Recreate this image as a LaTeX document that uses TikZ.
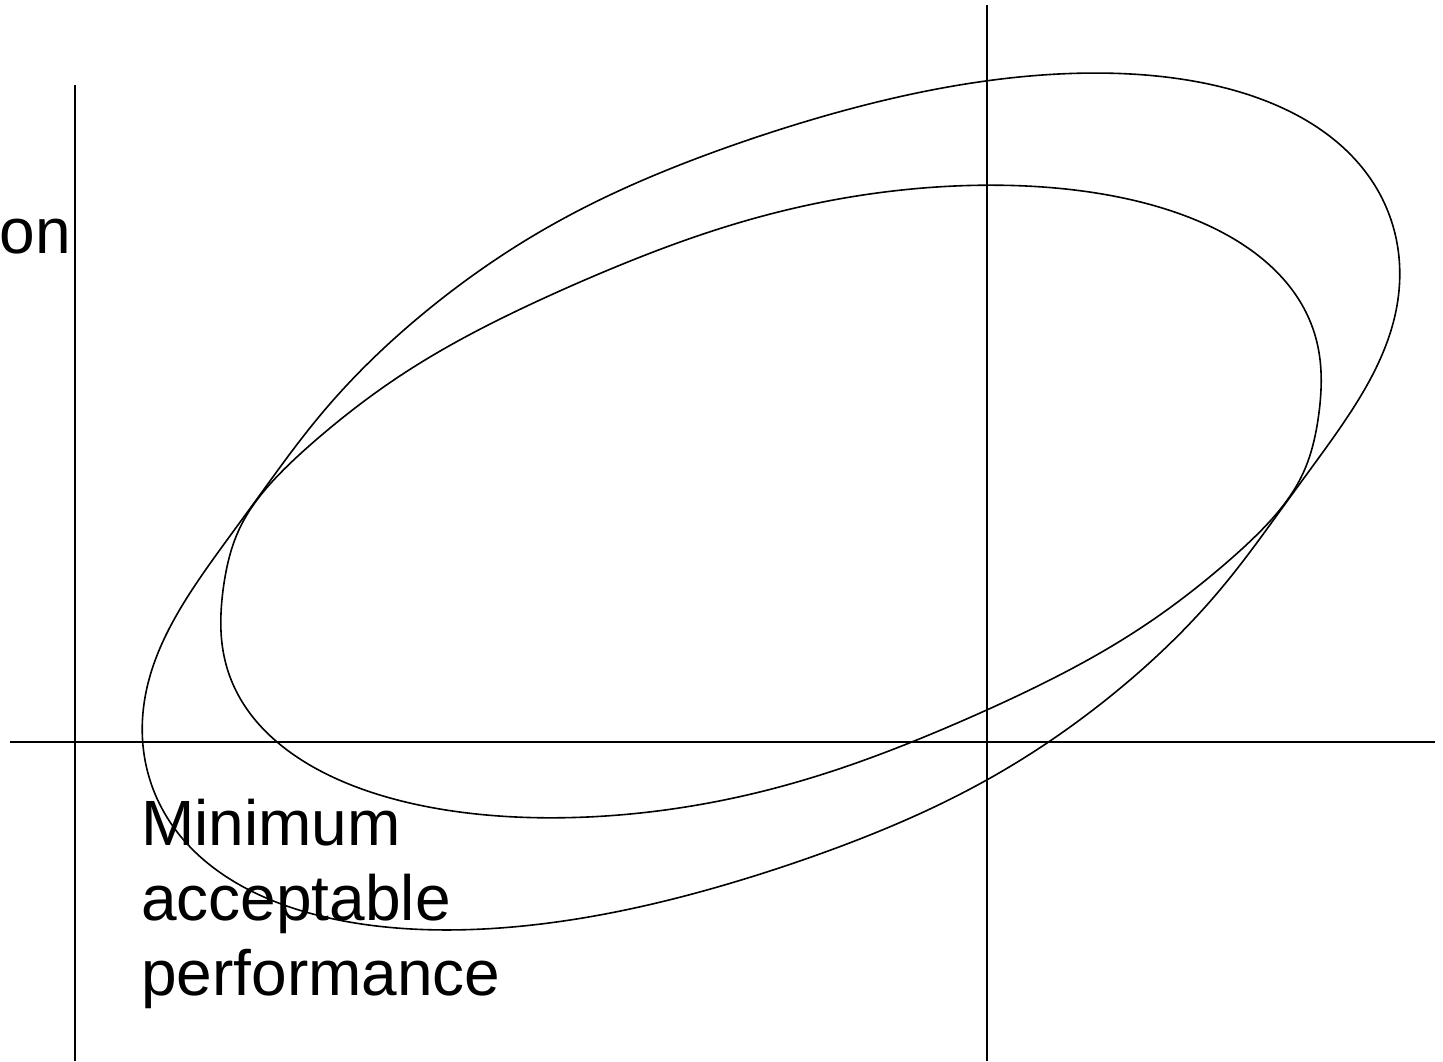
\documentclass[tikz,border=0pt]{standalone}
\usepackage{fontspec}
\setmainfont{Liberation Sans}
\pgfmathdeclarefunction{bmp}{3}{\pgfmathparse{exp(-min(((#1-#2)/#3)^2,9))}}
\pgfmathdeclarefunction{rhoA}{1}{\pgfmathparse{1-0.045*bmp(#1,43.5,17)-0.045*bmp(#1,223.5,17)+0.023*bmp(#1,84,16)+0.023*bmp(#1,264,16)}}
\pgfmathdeclarefunction{rhoB}{1}{\pgfmathparse{1+0.022*bmp(#1,30.7,12)+0.022*bmp(#1,210.7,12)-0.029*bmp(#1,77,20)-0.029*bmp(#1,257,20)}}
\begin{document}
\begin{tikzpicture}[x=1pt,y=-1pt,
  axis/.style={line width=1.6pt,black},
  loop/.style={line width=1.6pt,black},
  lbl/.style={inner sep=0pt,font=\fontsize{64}{75}\selectfont}]
\useasboundingbox (0,0) rectangle (1443,1061);
% axes
\coordinate (v1t) at (75,85);   \coordinate (v1b) at (75,1061);
\coordinate (v2t) at (987,5);   \coordinate (v2b) at (987,1061);
\coordinate (hl) at (10,742);   \coordinate (hr) at (1435,742);
\draw[axis] (v1t) -- (v1b);
\draw[axis] (v2t) -- (v2b);
\draw[axis] (hl) -- (hr);
% outer loop
\begin{scope}[shift={(771,501.5)},rotate=26.25]
\draw[loop] plot[smooth cycle,domain=0:359,samples=360,variable=\t]
  ({682.2*rhoA(\t)*cos(\t)},{339.2*rhoA(\t)*sin(\t)});
\end{scope}
% inner loop
\begin{scope}[shift={(771,501.5)},rotate=17.2]
\draw[loop] plot[smooth cycle,domain=0:359,samples=360,variable=\t]
  ({568.9*rhoB(\t)*cos(\t)},{280.5*rhoB(\t)*sin(\t)});
\end{scope}
% labels
\node[lbl, anchor=base east] (on) at (71,253) {on};
\node[lbl, anchor=base west] (m1) at (141,845) {Minimum};
\node[lbl, anchor=base west] (m2) at (141,920) {acceptable};
\node[lbl, anchor=base west] (m3) at (141,995) {performance};
\end{tikzpicture}
\end{document}
